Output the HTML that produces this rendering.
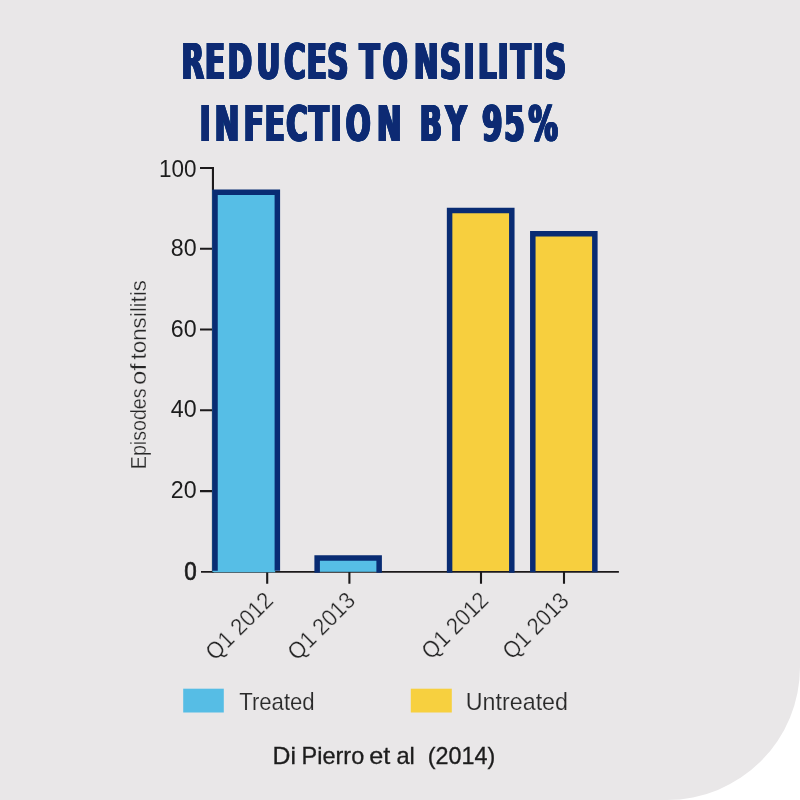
<!DOCTYPE html>
<html lang="en">
<head>
<meta charset="utf-8">
<title>Reduces tonsilitis infection by 95%</title>
<style>
html,body{margin:0;padding:0;background:#fff;}
body{width:800px;height:800px;overflow:hidden;}
.card{position:absolute;left:0;top:0;width:800px;height:800px;background:#e9e7e8;border-bottom-right-radius:133px;overflow:hidden;}
svg{position:absolute;left:0;top:0;display:block;}
.title{font-family:"DejaVu Sans","Liberation Sans",sans-serif;font-weight:bold;fill:#092c73;}
.num{font-family:"Liberation Sans",sans-serif;fill:#1c1c1c;}
.lab{font-family:"Liberation Sans","DejaVu Sans",sans-serif;fill:#262626;stroke:#e9e7e8;stroke-width:0.28px;}
.leg{font-family:"Liberation Sans","DejaVu Sans",sans-serif;fill:#2a2a2a;stroke:#e9e7e8;stroke-width:0.15px;}
.src{font-family:"Liberation Sans","DejaVu Sans",sans-serif;fill:#1c1c1c;stroke:#1c1c1c;stroke-width:0.3px;}
</style>
</head>
<body>
<div class="card">
<svg width="800" height="800" viewBox="0 0 800 800">
  <defs>
    <filter id="fat" x="-2%" y="-5%" width="104%" height="110%">
      <feOffset in="SourceGraphic" dx="-1.25" dy="0" result="a"/>
      <feOffset in="SourceGraphic" dx="1.25" dy="0" result="b"/>
      <feOffset in="SourceGraphic" dx="-0.62" dy="0" result="c"/>
      <feOffset in="SourceGraphic" dx="0.62" dy="0" result="e"/>
      <feMerge><feMergeNode in="a"/><feMergeNode in="b"/><feMergeNode in="c"/><feMergeNode in="e"/><feMergeNode in="SourceGraphic"/></feMerge>
    </filter>
  </defs>

  <!-- title -->
  <g class="title" filter="url(#fat)" font-size="49.4">
    <text transform="translate(0 78.8) scale(0.5934 1)" x="305.95 345.39 383.62 432.40 479.16 517.02 551.39 578.60 605.81 645.14 697.86 741.64 781.73 805.43 839.02 860.85 898.00 918.33" y="0">REDUCES TONSILITIS</text>
    <text transform="translate(0 140.8) scale(0.5934 1)" x="336.61 361.85 410.95 446.24 482.36 520.29 557.19 582.54 635.43 671.39 707.35 750.78 781.57 812.36 849.96 890.51" y="0">INFECTION BY 95%</text>
  </g>

  <!-- axes -->
  <g stroke="#1c1a1b" fill="none">
    <path stroke-width="2.1" d="M200 167.95 H212.95 M212.95 166.9 V572.8"/>
    <path stroke-width="1.8" d="M201 571.9 H618.9"/>
    <path stroke-width="2.1" d="M200 248.75 H213.5 M200 329.5 H213.5 M200 410.3 H213.5 M200 491.1 H213.5"/>
    <path stroke-width="2.1" d="M267.2 571.9 V583.75 M349.4 571.9 V583.75 M481 571.9 V583.75 M564 571.9 V583.75"/>
  </g>

  <!-- bars -->
  <g fill="#56bee6">
    <rect x="212.4" y="190" width="62.8" height="382.25"/>
    <rect x="315" y="556" width="66" height="15.8"/>
  </g>
  <g fill="#f7cf3e">
    <rect x="447.5" y="208.5" width="66" height="362.4"/>
    <rect x="531" y="231.5" width="66" height="339.4"/>
  </g>
  <g stroke="#092c73" stroke-width="5.5" fill="none" stroke-linejoin="miter">
    <path d="M215 570.75 V192.25 H277.35 V570.75"/>
    <path d="M317.15 572.75 V557.95 H379.15 V572.75"/>
    <path d="M449.6 572.75 V210.5 H511.8 V572.75"/>
    <path d="M532.8 572.2 V233.85 H594.85 V572.2"/>
  </g>

  <!-- y tick labels -->
  <g class="num" text-anchor="end" font-size="24.6">
    <text transform="translate(196.6 176.55) scale(0.915 1)">100</text>
    <text transform="translate(196.6 255.75) scale(0.945 1)">80</text>
    <text transform="translate(196.6 336.50) scale(0.945 1)">60</text>
    <text transform="translate(196.6 417.30) scale(0.945 1)">40</text>
    <text transform="translate(196.6 498.10) scale(0.945 1)">20</text>
    <text transform="translate(196.7 580.1) scale(0.885 1)" font-size="25.3" stroke="#1c1c1c" stroke-width="0.7">0</text>
  </g>

  <!-- y axis label -->
  <text class="lab" font-size="22.6" transform="translate(146 0) rotate(-90)"><tspan x="-469.2" textLength="80.8" lengthAdjust="spacingAndGlyphs">Episodes</tspan> <tspan x="-385.0" textLength="21.6" lengthAdjust="spacingAndGlyphs">of</tspan> <tspan x="-359.4" textLength="79.2" lengthAdjust="spacingAndGlyphs">tonsilitis</tspan></text>

  <!-- x labels -->
  <g class="lab" font-size="23.5">
    <text transform="translate(274.5 602) rotate(-45) translate(-84 0)" textLength="84" lengthAdjust="spacingAndGlyphs">Q1 2012</text>
    <text transform="translate(356.5 602) rotate(-45) translate(-84 0)" textLength="84" lengthAdjust="spacingAndGlyphs">Q1 2013</text>
    <text transform="translate(489.7 601.8) rotate(-45) translate(-83 0)" textLength="83" lengthAdjust="spacingAndGlyphs">Q1 2012</text>
    <text transform="translate(570.3 602.2) rotate(-45) translate(-82.5 0)" textLength="82.5" lengthAdjust="spacingAndGlyphs">Q1 2013</text>
  </g>

  <!-- legend -->
  <rect x="183.2" y="688.7" width="40.6" height="23.8" fill="#56bde5"/>
  <text class="leg" x="239.2" y="710" font-size="24.6" textLength="75.5" lengthAdjust="spacingAndGlyphs">Treated</text>
  <rect x="410.8" y="688.7" width="41" height="23.8" fill="#f7d03f"/>
  <text class="leg" x="465.8" y="710" font-size="24.6" textLength="102.2" lengthAdjust="spacingAndGlyphs">Untreated</text>

  <!-- source -->
  <text class="src" y="763.6" font-size="23.4"><tspan x="272.6" textLength="23.4" lengthAdjust="spacingAndGlyphs">Di</tspan> <tspan x="301.6" textLength="62.6" lengthAdjust="spacingAndGlyphs">Pierro</tspan> <tspan x="369.2" textLength="21" lengthAdjust="spacingAndGlyphs">et</tspan> <tspan x="396.4" textLength="18.4" lengthAdjust="spacingAndGlyphs">al</tspan> <tspan x="427.8" textLength="67.5" lengthAdjust="spacingAndGlyphs">(2014)</tspan></text>
</svg>
</div>
</body>
</html>
